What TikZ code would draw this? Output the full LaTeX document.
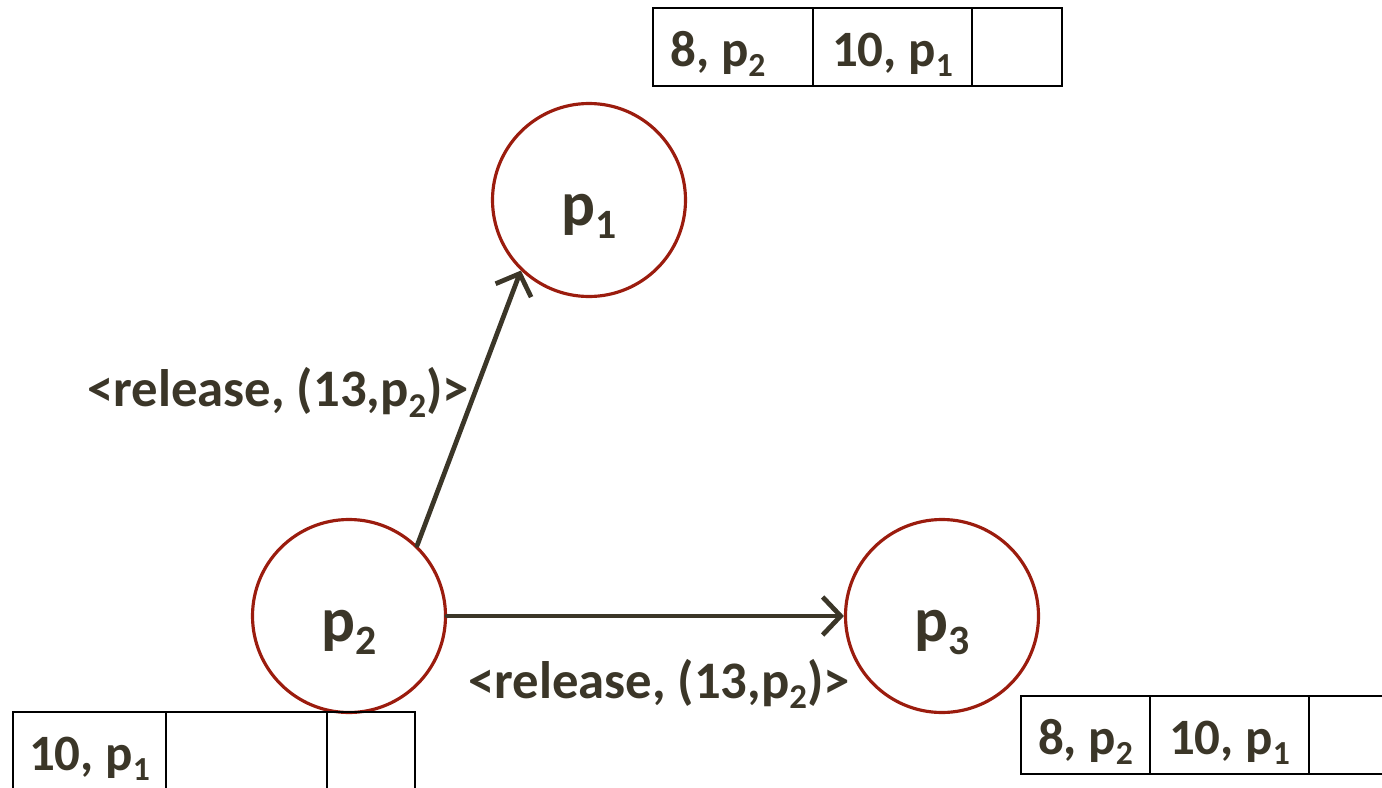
\documentclass[tikz,border=0pt]{standalone}
\usepackage{fontspec}
\setmainfont{Carlito}
\usepackage{tikz}
\usetikzlibrary{arrows.meta, calc}
\definecolor{proccol}{HTML}{9B1C0E}
\definecolor{textcol}{HTML}{3B3628}
\newcommand{\psub}[1]{\raisebox{-0.2em}{\scalebox{0.66}{#1}}}

\begin{document}
\begin{tikzpicture}[
    proc/.style={circle, draw=proccol, line width=0.9pt, fill=white,
                 minimum size=1.93cm, inner sep=0pt,
                 font=\fontsize{18}{20}\selectfont\bfseries, text=textcol,
                 text height=0.51cm, text depth=0pt},
    cell/.style={draw=black, line width=0.8pt, minimum height=0.78cm,
                 inner sep=0pt, outer sep=0pt, anchor=north west,
                 font=\fontsize{14.5}{18}\selectfont\bfseries, text=textcol,
                 text height=0.544cm, text depth=0.15cm},
    lbl/.style={font=\fontsize{15}{18}\selectfont\bfseries, text=textcol,
                inner sep=1pt},
    msg/.style={-{Straight Barb[length=1.8mm, width=3.8mm]}, line width=1.35pt,
                textcol, line cap=round, line join=round}
  ]

  % ---- Frame (reference proportions) ----
  \useasboundingbox (0,0) rectangle (13.82,-7.88);
  \clip (0,0) rectangle (13.82,-7.88);

  % ---- Processes ----
  \node[proc] (p1) at (5.89,-2.00) {p\psub{1}};
  \node[proc] (p2) at (3.49,-6.16) {p\psub{2}};
  \node[proc] (p3) at (9.42,-6.16) {p\psub{3}};

  % ---- Release messages sent by p2 ----
  \draw[msg] (p2.46) -- (p1.226)
    node[lbl, pos=0.557, anchor=east] (rel-p1) {<release, (13,p\psub{2})>};
  \draw[msg] (p2.east) -- (p3.west)
    node[lbl, pos=0.534, below=0.37cm] (rel-p3) {<release, (13,p\psub{2})>};

  % ---- Queue of p1 (top) ----
  \node[cell, minimum width=1.60cm] (q1-a) at (6.53,-0.08) {8, p\psub{2}\hspace*{0.3cm}};
  \node[cell, minimum width=1.59cm] (q1-b) at (q1-a.north east) {10, p\psub{1}};
  \node[cell, minimum width=0.90cm] (q1-c) at (q1-b.north east) {};

  % ---- Queue of p2 (bottom left) ----
  \node[cell, minimum width=1.53cm] (q2-a) at (0.13,-7.12) {10, p\psub{1}};
  \node[cell, minimum width=1.61cm] (q2-b) at (q2-a.north east) {};
  \node[cell, minimum width=0.88cm] (q2-c) at (q2-b.north east) {};

  % ---- Queue of p3 (bottom right) ----
  \node[cell, minimum width=1.29cm] (q3-a) at (10.21,-6.96) {8, p\psub{2}};
  \node[cell, minimum width=1.59cm] (q3-b) at (q3-a.north east) {10, p\psub{1}};
  \node[cell, minimum width=0.90cm] (q3-c) at (q3-b.north east) {};

\end{tikzpicture}
\end{document}
